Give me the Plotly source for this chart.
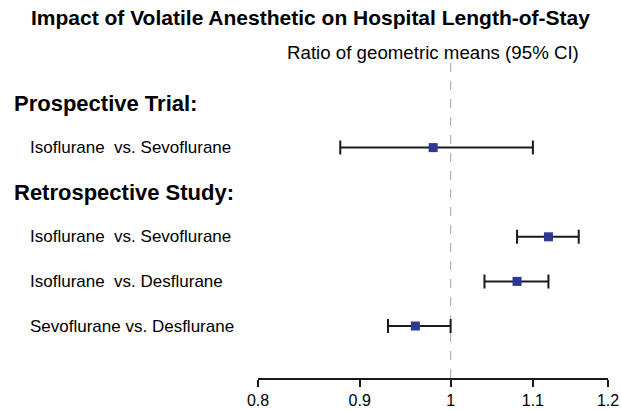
import math
import plotly.graph_objects as go

# ---- data ----
row_labels = ["Isoflurane\u00a0 vs. Sevoflurane",
              "Isoflurane\u00a0 vs. Sevoflurane",
              "Isoflurane\u00a0 vs. Desflurane",
              "Sevoflurane vs. Desflurane"]
row_pos = [1, 3, 4, 5]           # row index (0 and 2 are section headers)
ratio = [0.98, 1.12, 1.08, 0.96]
ci_low = [0.88, 1.08, 1.04, 0.93]
ci_high = [1.10, 1.16, 1.12, 1.00]
headers = ["Prospective Trial:", "Retrospective Study:"]
header_pos = [0, 2]
tick_vals = [0.8, 0.9, 1.0, 1.1, 1.2]
tick_text = ["0.8", "0.9", "1", "1.1", "1.2"]

W, H = 621, 411
FONT = "Liberation Sans, Arial, sans-serif"

# row index -> pixel mapping (for the y-range only)
row0_px, row_step = 103, 44.6
y_top = -row0_px / row_step
y_bot = (378 - row0_px) / row_step

fig = go.Figure()
fig.add_trace(go.Scatter(
    x=ratio, y=row_pos, mode="markers",
    marker=dict(symbol="square", size=9, color="#2B3990"),
    error_x=dict(type="data", symmetric=False,
                 array=[h - r for h, r in zip(ci_high, ratio)],
                 arrayminus=[r - l for r, l in zip(ratio, ci_low)],
                 color="#1a1a1a", thickness=2, width=7),
    showlegend=False, cliponaxis=False,
))

# reference line at 1
fig.add_shape(type="line", xref="x", yref="paper", x0=1, x1=1,
              y0=1 - 378 / H, y1=1 - 62 / H,
              line=dict(color="#b0b0b0", width=1.2, dash="dash"), layer="below")

ann = []
for t, p in zip(headers, header_pos):
    ann.append(dict(text="<b>%s</b>" % t, x=12 / W, xref="paper", y=p, yref="y",
                    xanchor="left", yanchor="middle", showarrow=False,
                    font=dict(size=22, color="black", family=FONT)))
for t, p in zip(row_labels, row_pos):
    ann.append(dict(text=t, x=28 / W, xref="paper", y=p, yref="y",
                    xanchor="left", yanchor="middle", showarrow=False,
                    font=dict(size=17, color="black", family=FONT)))
ann.append(dict(text="<b>Impact of Volatile Anesthetic on Hospital Length-of-Stay</b>",
                x=310 / W, xref="paper", y=1 - 18 / H, yref="paper",
                xanchor="center", yanchor="middle", showarrow=False,
                font=dict(size=21, color="black", family=FONT)))
ann.append(dict(text="Ratio of geometric means (95% CI)",
                x=433 / W, xref="paper", y=1 - 52 / H, yref="paper",
                xanchor="center", yanchor="middle", showarrow=False,
                font=dict(size=18.7, color="black", family=FONT)))

fig.update_layout(
    width=W, height=H,
    margin=dict(l=0, r=0, t=0, b=0, autoexpand=False),
    paper_bgcolor="white", plot_bgcolor="white",
    annotations=ann,
    xaxis=dict(type="log", range=[math.log10(0.8), math.log10(1.2)],
               domain=[258 / W, 608 / W], automargin=False,
               tickvals=tick_vals, ticktext=tick_text,
               showgrid=False, zeroline=False,
               showline=True, linecolor="#1a1a1a", linewidth=1.5,
               ticks="outside", ticklen=7, tickwidth=1.5, tickcolor="#1a1a1a",
               tickfont=dict(size=16, color="black", family=FONT)),
    yaxis=dict(range=[y_bot, y_top], domain=[1 - 378 / H, 1], automargin=False,
               visible=False, showgrid=False, zeroline=False),
)

fig.write_html("out.html", config={"displayModeBar": False},
               post_script="document.body.style.margin='0';document.body.style.overflow='hidden';")
